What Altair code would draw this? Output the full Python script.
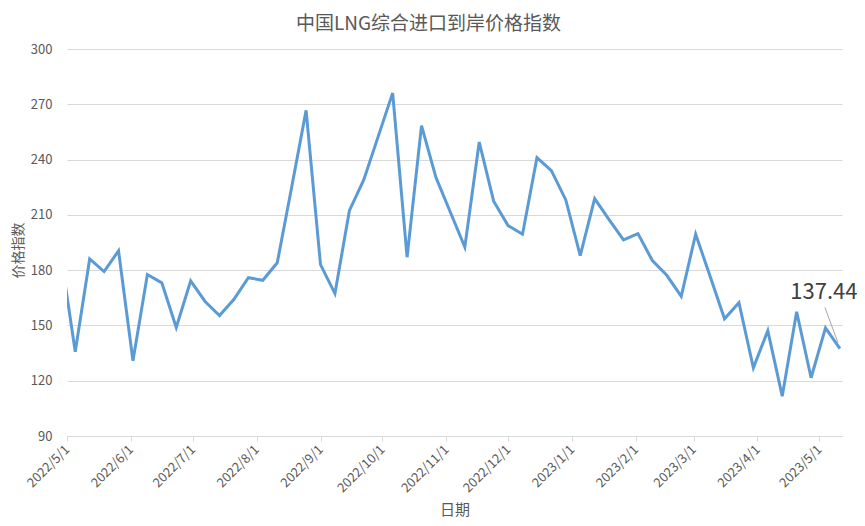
import altair as alt
import pandas as pd

dates = [
    "2022/04/28", "2022/05/05", "2022/05/12", "2022/05/19", "2022/05/26",
    "2022/06/02", "2022/06/09", "2022/06/16", "2022/06/23", "2022/06/30",
    "2022/07/07", "2022/07/14", "2022/07/21", "2022/07/28", "2022/08/04",
    "2022/08/11", "2022/08/18", "2022/08/25", "2022/09/01", "2022/09/08",
    "2022/09/15", "2022/09/22", "2022/09/29", "2022/10/06", "2022/10/13",
    "2022/10/20", "2022/10/27", "2022/11/03", "2022/11/10", "2022/11/17",
    "2022/11/24", "2022/12/01", "2022/12/08", "2022/12/15", "2022/12/22",
    "2022/12/29", "2023/01/05", "2023/01/12", "2023/01/19", "2023/01/26",
    "2023/02/02", "2023/02/09", "2023/02/16", "2023/02/23", "2023/03/02",
    "2023/03/09", "2023/03/16", "2023/03/23", "2023/03/30", "2023/04/06",
    "2023/04/13", "2023/04/20", "2023/04/27", "2023/05/04", "2023/05/11",
]
values = [
    188.4, 135.7, 186.1, 179.2, 190.5,
    130.8, 177.6, 173.1, 148.9, 174.2,
    163.0, 155.4, 164.2, 175.9, 174.5,
    184.0, 225.0, 266.7, 183.0, 167.3,
    212.3, 229.1, 252.6, 276.1, 187.0,
    258.4, 230.3, 211.4, 192.5, 249.5,
    217.4, 204.2, 199.5, 241.0, 234.0,
    218.1, 187.9, 218.8, 207.4, 196.4,
    199.8, 185.2, 177.2, 165.8, 199.5,
    176.7, 153.6, 162.3, 127.0, 147.2,
    111.6, 157.4, 121.6, 148.7, 137.44,
]
y_ticks = [90, 120, 150, 180, 210, 240, 270, 300]

title_text = "中国LNG综合进口到岸价格指数"
y_title = "价格指数"
x_title = "日期"

FONT = "Noto Sans CJK SC"
GREY = "#595959"

df = pd.DataFrame({"date": dates, "value": values})
last = df.tail(1)

x_scale = alt.Scale(
    domain=[alt.DateTime(year=2022, month=5, date=1),
            alt.DateTime(year=2023, month=5, date=12)]
)
y_scale = alt.Scale(domain=[90, 300], nice=False, zero=False)

x_axis = alt.Axis(
    format="%Y/%-m/%-d",
    tickCount={"interval": "month", "step": 1},
    labelAngle=315, labelAlign="right", labelBaseline="middle",
    labelFontSize=13, labelColor=GREY, labelFont=FONT, labelPadding=6,
    labelFlush=False, labelOverlap=False,
    tickSize=5, tickColor="#D9D9D9", domainColor="#D9D9D9", grid=False,
    title=x_title, titleFontSize=15, titleColor=GREY, titleFont=FONT,
    titleFontWeight="normal", titleY=73, titleBaseline="middle",
)
y_axis = alt.Axis(
    values=y_ticks, grid=True, gridColor="#D9D9D9", domain=False, ticks=False,
    labelFontSize=13, labelColor=GREY, labelFont=FONT, labelPadding=15,
    title=y_title, titleFontSize=14, titleColor=GREY, titleFont=FONT,
    titleFontWeight="normal", titleAngle=270, titleX=-49, titleY=201,
    titleAlign="center", titleBaseline="middle",
)

line = alt.Chart(df).mark_line(color="#5B9BD5", strokeWidth=3, clip=True).encode(
    x=alt.X("date:T", scale=x_scale, axis=x_axis),
    y=alt.Y("value:Q", scale=y_scale, axis=y_axis),
)

leader = alt.Chart(last).mark_rule(
    color="#A6A6A6", strokeWidth=1,
    xOffset=-2, yOffset=-6, x2Offset=-15, y2Offset=-41,
).encode(x="date:T", y="value:Q", x2="date:T", y2="value:Q")

label = alt.Chart(last).mark_text(
    font=FONT, fontSize=22, color="#404040", align="center",
    baseline="middle", dx=-16, dy=-57,
).encode(x="date:T", y="value:Q", text=alt.Text("value:Q", format=".2f"))

chart = alt.layer(line, leader, label).properties(
    width=775, height=387,
    padding={"left": 59, "top": 41, "right": 15, "bottom": 82},
    autosize=alt.AutoSizeParams(type="none"),
    title=alt.TitleParams(
        title_text, fontSize=19, font=FONT, color=GREY, fontWeight="normal",
        anchor="middle", frame="group", dx=-26, offset=9,
    ),
).configure_view(strokeWidth=0)

chart.save("out.html", embed_options={"renderer": "svg", "actions": False})
